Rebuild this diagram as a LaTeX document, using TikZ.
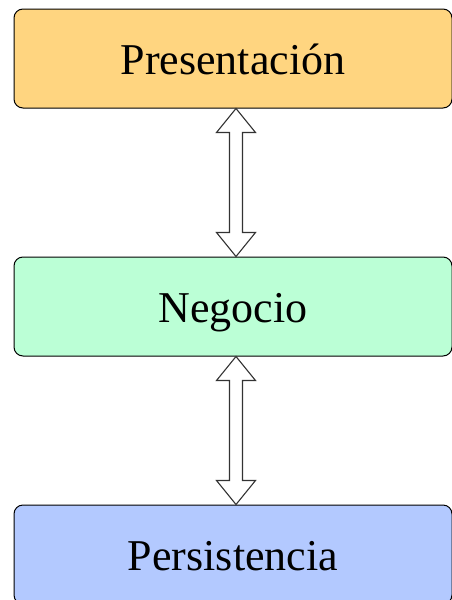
\documentclass[tikz,border=0pt]{standalone}
\usepackage{fontspec}
\setmainfont{Liberation Serif}
\usetikzlibrary{calc}
\definecolor{presfill}{HTML}{FFD580}
\definecolor{negfill}{HTML}{BBFFD6}
\definecolor{persfill}{HTML}{B3C9FF}
\definecolor{arrowline}{HTML}{333333}

% Hollow double-headed block arrow between an upper point #1 and a lower point #2
% (let-coordinates are in canvas units, y pointing up)
\newcommand{\hollowlink}[2]{%
  \draw[linkarrow]
    let \p1 = (#1), \p2 = (#2) in
    (\x1,\y1) -- (\x1+19.5pt,\y1-24pt) -- (\x1+6.5pt,\y1-24pt)
    -- (\x1+6.5pt,\y2+24pt) -- (\x1+19.5pt,\y2+24pt) -- (\x2,\y2)
    -- (\x1-19.5pt,\y2+24pt) -- (\x1-6.5pt,\y2+24pt)
    -- (\x1-6.5pt,\y1-24pt) -- (\x1-19.5pt,\y1-24pt) -- cycle;}

\begin{document}
\begin{tikzpicture}[x=1pt,y=-1pt,
  layer/.style={draw=black, line width=1pt, rounded corners=9pt,
    minimum width=438pt, minimum height=99pt, inner sep=0pt,
    text height=32pt, text depth=0pt,
    font=\fontsize{44}{50}\selectfont},
  linkarrow/.style={draw=arrowline, fill=white, line width=1.1pt, line join=miter}]
\useasboundingbox (0,0) rectangle (451,600);

\node[layer, fill=presfill] (pres) at (233,58.5) {Presentación};
\node[layer, fill=negfill] (neg) at (233,306.5) {Negocio};
\node[layer, fill=persfill] (pers) at (233,554.5) {Persistencia};

% arrow axis, slightly right of the box centre
\coordinate (axis) at (236,0);
\coordinate (a1) at (pres.south -| axis);
\coordinate (a2) at (neg.north -| axis);
\coordinate (b1) at (neg.south -| axis);
\coordinate (b2) at (pers.north -| axis);

\hollowlink{a1}{a2}
\hollowlink{b1}{b2}
\end{tikzpicture}
\end{document}
